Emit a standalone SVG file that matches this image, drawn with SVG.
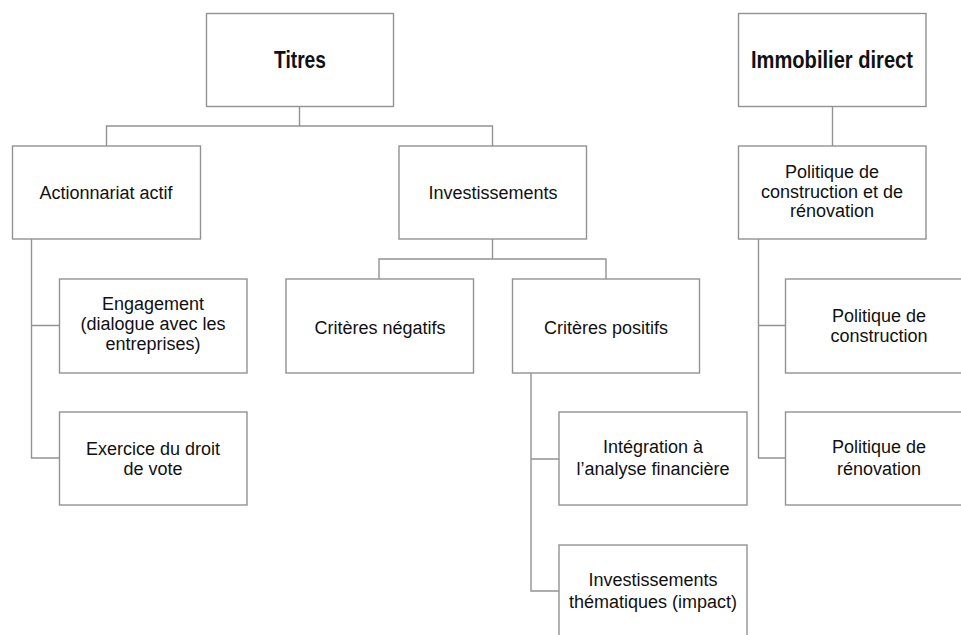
<svg xmlns="http://www.w3.org/2000/svg" width="961" height="635" viewBox="0 0 961 635">
<style>
.box{fill:#fff;stroke:#929292;stroke-width:1.4}
.ln{fill:none;stroke:#929292;stroke-width:1.4}
text{font-family:"Liberation Sans",Arial,sans-serif;font-size:18px;fill:#111;text-anchor:middle}
.t{font-weight:bold;font-size:24px}
</style>
<rect width="961" height="635" fill="#fff"/>
<g id="connectors">
<path class="ln" d="M299.5 106.5V126M106.5 146V126H492.5V146"/>
<path class="ln" d="M832.5 106.5V146"/>
<path class="ln" d="M31.5 239V458H59M31.5 325.5H59"/>
<path class="ln" d="M492.5 239V259M379 279V259H606V279"/>
<path class="ln" d="M531 373V591H559M531 459H559"/>
<path class="ln" d="M758.5 239V458H785M758.5 325.5H785"/>
</g>
<g id="titres"><rect class="box" x="206.5" y="13.5" width="187" height="93"/><text class="t" x="300" y="68" textLength="52" lengthAdjust="spacingAndGlyphs">Titres</text></g>
<g id="immobilier"><rect class="box" x="738.5" y="13.5" width="187.5" height="93"/><text class="t" x="832" y="68" textLength="162" lengthAdjust="spacingAndGlyphs">Immobilier direct</text></g>
<g id="actionnariat"><rect class="box" x="12.5" y="146" width="188" height="93"/><text x="106" y="199">Actionnariat actif</text></g>
<g id="investissements"><rect class="box" x="399" y="146" width="187.5" height="93"/><text x="493" y="199">Investissements</text></g>
<g id="politique"><rect class="box" x="738.5" y="146" width="187.5" height="93"/><text x="832" y="178">Politique de</text><text x="832" y="197.5">construction et de</text><text x="832" y="217">rénovation</text></g>
<g id="engagement"><rect class="box" x="59.5" y="279" width="187.5" height="94"/><text x="153" y="310">Engagement</text><text x="153" y="330">(dialogue avec les</text><text x="153" y="350">entreprises)</text></g>
<g id="exercice"><rect class="box" x="59.5" y="412" width="187.5" height="93"/><text x="153" y="455">Exercice du droit</text><text x="153" y="475">de vote</text></g>
<g id="negatifs"><rect class="box" x="286" y="279" width="187.5" height="94"/><text x="380" y="334">Critères négatifs</text></g>
<g id="positifs"><rect class="box" x="512.5" y="279" width="187" height="94"/><text x="606" y="334">Critères positifs</text></g>
<g id="integration"><rect class="box" x="559" y="412" width="188" height="93"/><text x="653" y="453">Intégration à</text><text x="653" y="475">l’analyse financière</text></g>
<g id="thematiques"><rect class="box" x="559" y="545" width="188" height="94"/><text x="653" y="586">Investissements</text><text x="653" y="608">thématiques (impact)</text></g>
<g id="construction"><rect class="box" x="785.5" y="279" width="187" height="94"/><text x="879" y="322">Politique de</text><text x="879" y="342">construction</text></g>
<g id="renovation"><rect class="box" x="785.5" y="412" width="187" height="93"/><text x="879" y="453">Politique de</text><text x="879" y="475">rénovation</text></g>
</svg>
